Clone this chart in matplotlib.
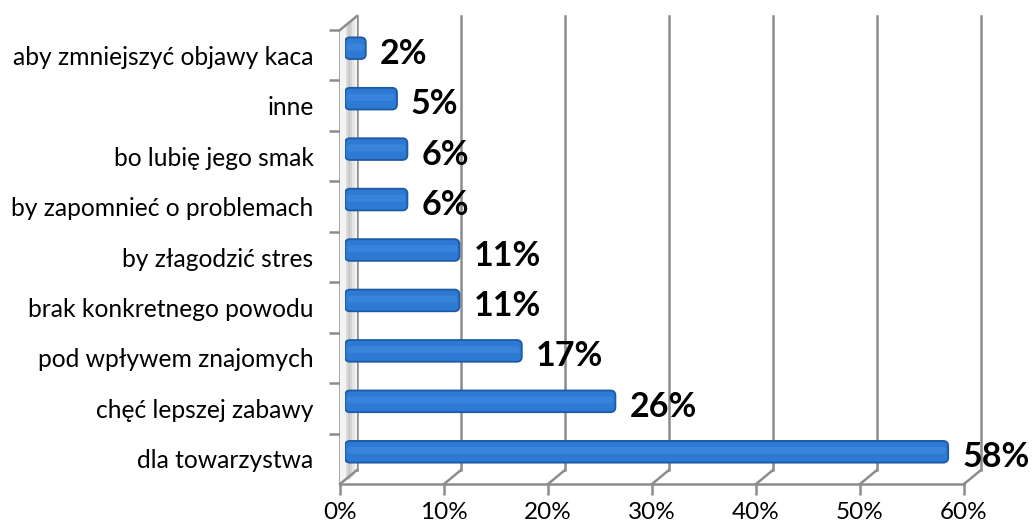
import matplotlib.pyplot as plt
from matplotlib.patches import Polygon, FancyBboxPatch
from matplotlib.lines import Line2D

# Categories (bottom to top) and their shares
categories = ['dla towarzystwa', 'chęć lepszej zabawy', 'pod wpływem znajomych',
              'brak konkretnego powodu', 'by złagodzić stres', 'by zapomnieć o problemach',
              'bo lubię jego smak', 'inne', 'aby zmniejszyć objawy kaca']
values = [0.58, 0.26, 0.17, 0.11, 0.11, 0.06, 0.06, 0.05, 0.02]
value_labels = ['58%', '26%', '17%', '11%', '11%', '6%', '6%', '5%', '2%']
x_ticks = [0.0, 0.1, 0.2, 0.3, 0.4, 0.5, 0.6]
x_tick_labels = ['0%', '10%', '20%', '30%', '40%', '50%', '60%']

W, H, DPI = 1036, 527, 100
GRID = '#8c8c8c'
plt.rcParams['font.family'] = ['Lato', 'DejaVu Sans']

fig = plt.figure(figsize=(W / DPI, H / DPI), dpi=DPI)

# front plane of the pseudo-3D box (pixels)
fx0, fy0, fx1, fy1 = 340, 484, 964, 30
depth = (17, 14)


def box(dx, dy):
    return [(fx0 + dx) / W, (H - fy0 + dy) / H, (fx1 - fx0) / W, (fy0 - fy1) / H]


ypos = list(range(len(categories)))

# back wall with gridlines
back = fig.add_axes(box(*depth))
back.set_xlim(0, 0.6)
back.set_ylim(-0.5, len(categories) - 0.5)
back.axis('off')
for t in x_ticks:
    back.axvline(t, color=GRID, lw=1.8, clip_on=False)

# left side wall and floor drawn in pixels
to_px = lambda x, y: (x, H - y)
wall = Polygon([to_px(fx0, fy0), to_px(fx0, fy1), to_px(fx0 + depth[0], fy1 - depth[1]),
                to_px(fx0 + depth[0], fy0 - depth[1])], closed=True,
               facecolor='#f4f4f4', edgecolor='none', transform=None, zorder=0.2)
fig.add_artist(wall)
for off, c in [(7, '#dadada'), (9, '#c8c8c8'), (11, '#d4d4d4'), (13, '#e6e6e6')]:
    fig.add_artist(Line2D([fx0 + off, fx0 + off], [H - fy0 + off * 0.8, H - fy1 + off * 0.8],
                          color=c, lw=2, transform=None, zorder=0.5))
fig.add_artist(Line2D([fx0, fx0 + depth[0]], [H - fy1, H - fy1 + depth[1]],
                      color=GRID, lw=1.8, transform=None))

front = fig.add_axes(box(0, 0))
front.set_xlim(0, 0.6)
front.set_ylim(-0.5, len(categories) - 0.5)
front.patch.set_alpha(0)
for s in ['top', 'right']:
    front.spines[s].set_visible(False)
for s in ['left', 'bottom']:
    front.spines[s].set_color(GRID)
    front.spines[s].set_linewidth(1.8)
front.set_yticks(ypos)
front.set_yticklabels(categories, fontsize=17.7)
front.set_yticks([p - 0.5 for p in ypos[1:]] + [len(categories) - 0.5], minor=True)
front.tick_params(axis='y', which='major', length=0, pad=19)
front.tick_params(axis='y', which='minor', length=8, width=1.8, color=GRID)
front.set_xticks(x_ticks)
front.set_xticklabels(x_tick_labels, fontsize=17.5)
front.tick_params(axis='x', length=8, width=1.8, color=GRID, pad=5)

# floor diagonals
for t in x_ticks:
    px, py = front.transData.transform((t, -0.5))
    fig.add_artist(Line2D([px, px + depth[0]], [py, py + depth[1]],
                          color=GRID, lw=1.8, transform=None))

# bars in the mid plane
bars = fig.add_axes(box(5, 7))
bars.set_zorder(3)
bars.set_xlim(0, 0.6)
bars.set_ylim(-0.5, len(categories) - 0.5)
bars.axis('off')
rects = bars.barh(ypos, values, height=0.43)
px_x = 0.6 / (fx1 - fx0)
px_y = len(categories) / (fy0 - fy1)
aspect = px_y / px_x
for r in rects:
    x, y, w, h = r.get_x(), r.get_y(), r.get_width(), r.get_height()
    r.remove()
    bars.add_patch(FancyBboxPatch((x, y), w, h, boxstyle='round,pad=0,rounding_size=%f' % (5 * px_x),
                                  mutation_aspect=aspect, facecolor='#2d79d4',
                                  edgecolor='#1d5aa4', linewidth=1.3))
    bars.add_patch(FancyBboxPatch((x + 2 * px_x, y + h * 0.4), w - 4 * px_x, h * 0.32,
                                  boxstyle='round,pad=0,rounding_size=%f' % (3 * px_x),
                                  mutation_aspect=aspect, facecolor='#4c95e8',
                                  edgecolor='none', alpha=0.4))
for p, v, lab in zip(ypos, values, value_labels):
    bars.annotate(lab, (v, p), xytext=(10, -4), textcoords='offset points',
                  ha='left', va='center', fontsize=24.5, fontweight='bold', color='black')

fig.savefig('out.png', dpi=DPI)
